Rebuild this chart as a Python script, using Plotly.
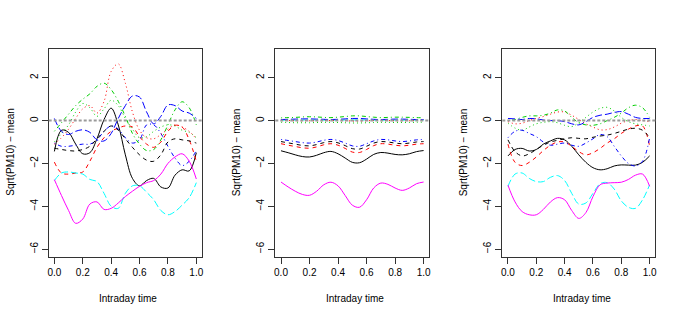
import plotly.graph_objects as go
from plotly.subplots import make_subplots

# ---------------- data ----------------
time_grid = [0.00, 0.05, 0.10, 0.15, 0.20, 0.25, 0.30, 0.35, 0.40, 0.45, 0.50,
             0.55, 0.60, 0.65, 0.70, 0.75, 0.80, 0.85, 0.90, 0.95, 1.00]

x_tick_vals = [0.0, 0.2, 0.4, 0.6, 0.8, 1.0]
x_tick_text = ["0.0", "0.2", "0.4", "0.6", "0.8", "1.0"]
y_tick_vals = [-6, -4, -2, 0, 2]
y_tick_text = ["\u22126", "\u22124", "\u22122", "0", "2"]

# Panel 1
p1_c1 = [-1.44, -0.45, -0.55, -1.10, -1.55, -1.50, -0.85, 0.05, 0.58, -0.20, -1.60,
         -2.70, -3.05, -2.80, -2.70, -3.10, -3.15, -2.55, -2.30, -2.35, -1.50]
p1_c2 = [-1.94, -2.45, -2.50, -2.45, -2.40, -1.90, -1.25, -0.80, -0.50, -0.35, -0.25,
         -0.30, -0.75, -1.10, -1.25, -1.00, -0.50, -0.22, -0.30, -0.90, -1.90]
p1_c3 = [-1.00, -0.60, -0.20, 0.40, 0.80, 0.60, 0.20, 0.55, 0.95, 0.70, 0.10,
         -0.40, -0.80, -0.75, -0.50, -0.30, -0.20, -0.25, -0.45, -0.55, -0.80]
p1_c4 = [-1.05, -1.20, -1.20, -1.15, -1.10, -1.10, -0.90, -0.50, -0.25, -0.40, -0.80,
         -1.05, -0.90, -0.20, -0.20, -0.60, -1.20, -1.75, -2.10, -1.90, -1.40]
p1_c5 = [-2.80, -2.45, -2.40, -2.45, -2.50, -2.75, -2.85, -3.40, -4.00, -4.10, -3.40,
         -3.05, -3.05, -3.35, -3.70, -4.20, -4.40, -4.25, -3.95, -3.60, -2.90]
p1_c6 = [-2.76, -3.50, -4.20, -4.80, -4.60, -3.90, -3.80, -4.15, -4.10, -3.85, -3.55,
         -3.30, -3.07, -2.90, -2.80, -2.50, -2.00, -1.70, -1.55, -1.90, -2.73]
p1_c7 = [-1.29, -1.35, -1.40, -1.42, -1.35, -1.20, -0.85, -0.50, -0.25, -0.45, -0.85,
         -1.25, -1.60, -1.85, -1.90, -1.60, -1.00, -0.85, -0.90, -0.95, -1.05]
p1_c8 = [-1.10, -0.80, -0.40, 0.10, 0.55, 0.70, 0.35, 0.90, 2.30, 2.65, 1.75,
         0.40, -0.45, -0.80, -0.85, -0.65, -0.40, -0.20, -0.30, -0.50, -0.85]
p1_c9 = [-0.50, -0.10, 0.30, 0.70, 1.00, 1.25, 1.60, 1.75, 1.45, 0.90, 0.20,
         -0.60, -1.10, -1.40, -1.35, -0.90, -0.20, 0.50, 0.88, 0.60, -0.20]
p1_c10 = [0.10, -0.50, -0.65, -0.50, -0.43, -0.55, -0.90, -0.95, -0.60, 0.10, 0.70,
          1.15, 1.10, 0.40, -0.15, 0.20, 0.73, 0.70, 0.45, 0.35, 0.10]

# Panel 2
p2_c1 = [-1.41, -1.50, -1.60, -1.68, -1.70, -1.62, -1.50, -1.44, -1.55, -1.75, -1.95,
         -1.97, -1.80, -1.58, -1.49, -1.52, -1.58, -1.60, -1.55, -1.45, -1.40]
p2_c2 = [-1.08, -1.15, -1.21, -1.27, -1.29, -1.23, -1.13, -1.08, -1.15, -1.30, -1.47,
         -1.49, -1.35, -1.17, -1.08, -1.10, -1.15, -1.18, -1.15, -1.10, -1.08]
p2_c3 = [-0.08, -0.09, -0.10, -0.10, -0.10, -0.09, -0.08, -0.08, -0.09, -0.10, -0.11,
         -0.11, -0.10, -0.09, -0.08, -0.08, -0.09, -0.09, -0.09, -0.08, -0.08]
p2_c4 = [-0.88, -0.93, -0.98, -1.03, -1.05, -1.00, -0.92, -0.88, -0.93, -1.05, -1.18,
         -1.20, -1.08, -0.95, -0.88, -0.90, -0.95, -0.98, -0.95, -0.90, -0.88]
p2_c5 = [0.02, 0.02, 0.02, 0.03, 0.03, 0.03, 0.02, 0.02, 0.02, 0.03, 0.03,
         0.03, 0.03, 0.02, 0.02, 0.02, 0.02, 0.02, 0.02, 0.02, 0.02]
p2_c6 = [-2.87, -3.10, -3.30, -3.45, -3.49, -3.30, -3.00, -2.88, -3.05, -3.50, -3.95,
         -4.05, -3.70, -3.15, -2.92, -2.98, -3.15, -3.26, -3.15, -2.95, -2.87]
p2_c7 = [-0.98, -1.04, -1.10, -1.16, -1.18, -1.12, -1.03, -0.98, -1.04, -1.17, -1.31,
         -1.33, -1.20, -1.05, -0.98, -1.00, -1.05, -1.08, -1.05, -1.00, -0.98]
p2_c8 = [0.00, 0.00, -0.01, -0.01, -0.01, -0.01, 0.00, 0.00, 0.00, -0.01, -0.02,
         -0.02, -0.01, 0.00, 0.00, 0.00, -0.01, -0.01, -0.01, 0.00, 0.00]
p2_c9 = [0.13, 0.14, 0.15, 0.17, 0.18, 0.17, 0.15, 0.14, 0.16, 0.19, 0.22,
         0.22, 0.19, 0.16, 0.14, 0.15, 0.16, 0.16, 0.15, 0.14, 0.13]
p2_c10 = [0.05, 0.06, 0.07, 0.08, 0.08, 0.07, 0.06, 0.05, 0.06, 0.08, 0.10,
          0.10, 0.08, 0.06, 0.05, 0.06, 0.07, 0.07, 0.06, 0.05, 0.05]

# Panel 3
p3_c1 = [-1.65, -1.35, -1.30, -1.42, -1.35, -1.10, -0.95, -0.83, -0.90, -1.20, -1.60,
         -1.95, -2.20, -2.30, -2.25, -2.12, -2.07, -2.08, -2.08, -1.95, -1.65]
p3_c2 = [-1.10, -1.95, -2.10, -1.95, -1.70, -1.40, -1.15, -1.00, -1.00, -1.20, -1.45,
         -1.60, -1.50, -1.30, -1.05, -0.85, -0.60, -0.40, -0.25, -0.25, -1.20]
p3_c3 = [-0.12, -0.35, -0.45, -0.30, -0.15, -0.08, -0.05, -0.10, -0.22, -0.28, -0.10,
         0.15, 0.40, 0.57, 0.62, 0.45, 0.15, -0.05, -0.15, -0.20, -0.25]
p3_c4 = [-0.80, -0.50, -0.45, -0.60, -0.75, -1.00, -1.15, -1.10, -1.05, -1.15, -1.20,
         -1.05, -0.85, -0.65, -0.75, -1.20, -1.65, -2.00, -2.12, -1.90, -0.80]
p3_c5 = [-3.07, -2.50, -2.45, -2.70, -2.85, -2.85, -2.65, -2.57, -2.80, -3.40, -3.90,
         -3.85, -3.40, -2.95, -2.90, -3.20, -3.75, -4.05, -4.10, -3.70, -3.00]
p3_c6 = [-3.02, -3.80, -4.25, -4.40, -4.40, -4.15, -3.80, -3.60, -3.70, -4.20, -4.57,
         -4.30, -3.55, -3.00, -2.92, -2.90, -2.88, -2.75, -2.55, -2.50, -3.07]
p3_c7 = [-0.90, -1.45, -1.65, -1.55, -1.35, -1.15, -1.00, -0.92, -0.85, -0.80, -0.83,
         -0.85, -0.78, -0.72, -0.68, -0.60, -0.50, -0.40, -0.36, -0.45, -0.80]
p3_c8 = [-0.05, -0.15, -0.12, 0.00, 0.10, 0.19, 0.30, 0.40, 0.40, 0.25, 0.05,
         -0.15, -0.30, -0.43, -0.42, -0.30, -0.12, 0.00, 0.05, 0.00, -0.05]
p3_c9 = [0.00, 0.05, 0.15, 0.22, 0.22, 0.25, 0.35, 0.50, 0.45, 0.15, -0.10,
         -0.20, -0.22, -0.15, 0.00, 0.15, 0.35, 0.60, 0.72, 0.60, 0.15]
p3_c10 = [0.10, 0.08, 0.05, 0.10, 0.08, 0.03, 0.00, 0.00, -0.05, -0.15, -0.20,
          -0.05, 0.15, 0.25, 0.30, 0.38, 0.42, 0.30, 0.15, 0.10, 0.10]

panels = [
    [p1_c1, p1_c2, p1_c3, p1_c4, p1_c5, p1_c6, p1_c7, p1_c8, p1_c9, p1_c10],
    [p2_c1, p2_c2, p2_c3, p2_c4, p2_c5, p2_c6, p2_c7, p2_c8, p2_c9, p2_c10],
    [p3_c1, p3_c2, p3_c3, p3_c4, p3_c5, p3_c6, p3_c7, p3_c8, p3_c9, p3_c10],
]

x_title = "Intraday time"
y_title = "Sqrt(PM10) \u2212 mean"

# ---------------- styles (R matplot defaults) ----------------
palette = ["#000000", "#FF0000", "#00CD00", "#0000FF", "#00FFFF", "#FF00FF"]
ltys = ["solid", "4px,4px", "1px,3px", "1px,3px,4px,3px", "7px,3px"]
FONT = "Liberation Sans, Arial, Helvetica, sans-serif"

fig = make_subplots(rows=1, cols=3)

for p, curves in enumerate(panels):
    for i, vals in enumerate(curves):
        fig.add_trace(
            go.Scatter(
                x=time_grid, y=vals, mode="lines",
                line=dict(color=palette[i % 6], dash=ltys[i % 5], width=1,
                          shape="spline", smoothing=1.0),
                showlegend=False, hoverinfo="skip",
            ),
            row=1, col=p + 1,
        )
    fig.add_hline(y=0, line=dict(color="#9a9a9a", width=2, dash="3px,2px"),
                  row=1, col=p + 1)

W, H = 681, 318


def px_x(px):
    return px / W


def px_y(py):
    return 1 - py / H


x_domains = [(48.7, 202.0), (275.3, 429.3), (502.3, 655.3)]
y_dom = (px_y(256.7), px_y(48.7))

axis_common = dict(showline=True, mirror=True, linecolor="#333333", linewidth=1,
                   ticks="outside", ticklen=6, tickcolor="#333333", tickwidth=1,
                   showgrid=False, zeroline=False, automargin=False,
                   tickfont=dict(family=FONT, size=10, color="#000000"))

layout_updates = {}
for k, (a, b) in enumerate(x_domains):
    sfx = "" if k == 0 else str(k + 1)
    layout_updates["xaxis" + sfx] = dict(
        domain=[px_x(a), px_x(b)], range=[-0.04, 1.04],
        tickvals=x_tick_vals, ticktext=x_tick_text, tickangle=0, **axis_common)
    layout_updates["yaxis" + sfx] = dict(
        domain=list(y_dom), range=[-6.36, 3.36],
        tickvals=y_tick_vals, ticktext=y_tick_text, tickangle=-90, **axis_common)

fig.update_layout(**layout_updates)

annotations = []
for k, (a, b) in enumerate(x_domains):
    cx = (a + b) / 2 + 3
    annotations.append(dict(text=x_title, x=px_x(cx), y=px_y(298), xref="paper", yref="paper",
                            showarrow=False, xanchor="center", yanchor="middle",
                            font=dict(family=FONT, size=10, color="#000000")))
    annotations.append(dict(text=y_title, x=px_x(a - 39), y=px_y(152), xref="paper",
                            yref="paper", showarrow=False, textangle=-90,
                            xanchor="center", yanchor="middle",
                            font=dict(family=FONT, size=10, color="#000000")))

fig.update_layout(
    width=W, height=H,
    margin=dict(l=0, r=0, t=0, b=0),
    paper_bgcolor="white", plot_bgcolor="white",
    annotations=annotations,
    showlegend=False,
)

fig.write_html("out.html",
               config={"displayModeBar": False, "staticPlot": True},
               post_script="document.body.style.margin='0';document.body.style.overflow='hidden';")
